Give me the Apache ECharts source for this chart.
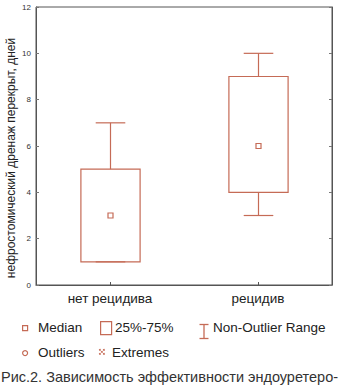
<!DOCTYPE html>
<html><head><meta charset="utf-8">
<script src="https://cdn.jsdelivr.net/npm/echarts@6/dist/echarts.min.js"></script>
<style>html,body{margin:0;padding:0;background:#fff}#c{width:339px;height:389px}</style>
</head><body><div id="c"></div>
<script>
var categories = ['нет рецидива', 'рецидив'];
var whiskerMin = [1, 3];
var q1 = [1, 4];
var median = [3, 6];
var q3 = [5, 9];
var whiskerMax = [7, 10];
var yTicks = [0, 2, 4, 6, 8, 10, 12];
var legendItems = ['Median', '25%-75%', 'Non-Outlier Range', 'Outliers', 'Extremes'];
var yName = 'нефростомический дренаж перекрыт, дней';
var caption = 'Рис.2. Зависимость эффективности эндоуретеро-';

var COL = '#c56b56';
var data = categories.map(function (c, i) { return [i, whiskerMin[i], q1[i], median[i], q3[i], whiskerMax[i]]; });

function renderItem(params, api) {
  var x = api.value(0);
  var pMin = api.coord([x, api.value(1)]);
  var pQ1 = api.coord([x, api.value(2)]);
  var pMed = api.coord([x, api.value(3)]);
  var pQ3 = api.coord([x, api.value(4)]);
  var pMax = api.coord([x, api.value(5)]);
  var bw = api.size([1, 0])[0] * 0.4;
  var cw = bw * 0.5;
  var cx = Math.round(pMed[0]) + 0.5;
  var st = {stroke: COL, lineWidth: 1.2, fill: null};
  var ch = [];
  ch.push({type: 'rect', shape: {x: cx - bw / 2, y: pQ3[1], width: bw, height: pQ1[1] - pQ3[1]}, style: {stroke: COL, lineWidth: 1.2, fill: '#fff'}});
  if (pMax[1] < pQ3[1]) {
    ch.push({type: 'line', shape: {x1: cx, y1: pQ3[1], x2: cx, y2: pMax[1]}, style: st});
  }
  ch.push({type: 'line', shape: {x1: cx - cw / 2, y1: pMax[1], x2: cx + cw / 2, y2: pMax[1]}, style: st});
  if (pMin[1] > pQ1[1]) {
    ch.push({type: 'line', shape: {x1: cx, y1: pQ1[1], x2: cx, y2: pMin[1]}, style: st});
  }
  ch.push({type: 'line', shape: {x1: cx - cw / 2, y1: pMin[1], x2: cx + cw / 2, y2: pMin[1]}, style: st});
  ch.push({type: 'rect', shape: {x: cx - 2.5, y: pMed[1] - 2.5, width: 5, height: 5}, style: {stroke: COL, lineWidth: 1.2, fill: '#fff'}});
  return {type: 'group', children: ch};
}

var chart = echarts.init(document.getElementById('c'), null, {renderer: 'svg'});
var axisLine = {show: true, lineStyle: {color: '#555', width: 1}};
var legendFont = 'Arial, "Liberation Sans", sans-serif';
var graphics = [];
// y-axis title
graphics.push({type: 'text', x: 11, y: 158, rotation: Math.PI / 2,
  style: {text: yName, font: '12px ' + legendFont, fill: '#222', align: 'center', verticalAlign: 'middle'}});
// legend row 1
graphics.push({type: 'rect', left: 22, top: 325, shape: {width: 5, height: 5}, style: {stroke: COL, lineWidth: 1.2, fill: '#fff'}});
graphics.push({type: 'text', left: 38, top: 320, style: {text: legendItems[0], font: '13.5px ' + legendFont, fill: '#222'}});
graphics.push({type: 'rect', left: 100, top: 321, shape: {width: 11, height: 13}, style: {stroke: COL, lineWidth: 1.2, fill: '#fff'}});
graphics.push({type: 'text', left: 115, top: 320, style: {text: legendItems[1], font: '13.5px ' + legendFont, fill: '#222'}});
graphics.push({type: 'group', left: 197, top: 322, children: [
  {type: 'line', shape: {x1: 0, y1: 0, x2: 9, y2: 0}, style: {stroke: COL, lineWidth: 1.3}},
  {type: 'line', shape: {x1: 4.5, y1: 0, x2: 4.5, y2: 14}, style: {stroke: COL, lineWidth: 1.3}},
  {type: 'line', shape: {x1: 0, y1: 14, x2: 9, y2: 14}, style: {stroke: COL, lineWidth: 1.3}}
]});
graphics.push({type: 'text', left: 213, top: 320, style: {text: legendItems[2], font: '13.5px ' + legendFont, fill: '#222'}});
// legend row 2
graphics.push({type: 'circle', left: 22, top: 350, shape: {r: 2.5}, style: {stroke: COL, lineWidth: 1.2, fill: '#fff'}});
graphics.push({type: 'text', left: 38, top: 345, style: {text: legendItems[3], font: '13.5px ' + legendFont, fill: '#222'}});
graphics.push({type: 'group', left: 99, top: 349, children: [
  {type: 'circle', shape: {cx: 0, cy: 0, r: 0.9}, style: {fill: COL}},
  {type: 'circle', shape: {cx: 4, cy: 0, r: 0.9}, style: {fill: COL}},
  {type: 'circle', shape: {cx: 2, cy: 2, r: 0.9}, style: {fill: COL}},
  {type: 'circle', shape: {cx: 0, cy: 4, r: 0.9}, style: {fill: COL}},
  {type: 'circle', shape: {cx: 4, cy: 4, r: 0.9}, style: {fill: COL}}
]});
graphics.push({type: 'text', left: 112, top: 345, style: {text: legendItems[4], font: '13.5px ' + legendFont, fill: '#222'}});
// caption
graphics.push({type: 'text', left: 1, top: 369, style: {text: caption, font: '14.5px ' + legendFont, fill: '#333'}});

chart.setOption({
  animation: false,
  grid: {left: 36, right: 7, top: 7, bottom: 104, show: true, borderColor: '#555', borderWidth: 1, outerBoundsMode: 'none', containLabel: false},
  xAxis: [{
    type: 'category', data: categories, boundaryGap: true,
    axisLine: axisLine,
    axisTick: {show: true, inside: true, length: 3, alignWithLabel: true, lineStyle: {color: '#555'}},
    axisLabel: {fontSize: 13.5, color: '#222', margin: 6, fontFamily: legendFont},
    splitLine: {show: false}
  }],
  yAxis: [{
    type: 'value', min: 0, max: 12, interval: 2,
    axisLine: axisLine,
    axisTick: {show: true, inside: true, length: 3, lineStyle: {color: '#777'}},
    axisLabel: {fontSize: 8, color: '#333', margin: 5, fontFamily: legendFont},
    splitLine: {show: false}
  }, {
    type: 'value', min: 0, max: 12, interval: 2, position: 'right',
    axisLine: axisLine,
    axisTick: {show: true, inside: true, length: 3, lineStyle: {color: '#777'}},
    axisLabel: {show: false}, splitLine: {show: false}
  }],
  series: [{
    type: 'custom', renderItem: renderItem, data: data,
    encode: {x: 0, y: [1, 2, 3, 4, 5]}
  }],
  graphic: graphics
});
</script></body></html>
